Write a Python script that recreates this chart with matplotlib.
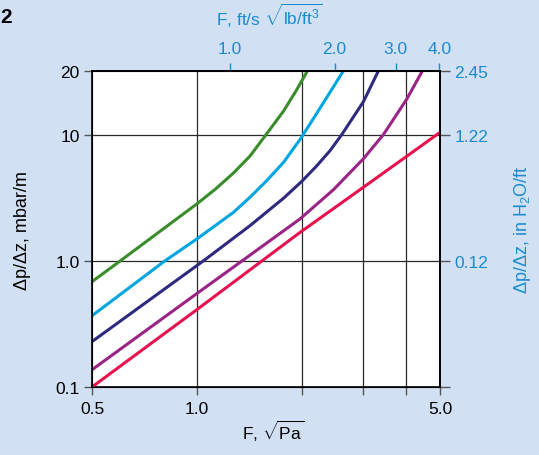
import numpy as np
import matplotlib
matplotlib.use("Agg")
import matplotlib.pyplot as plt
from matplotlib.ticker import FixedLocator, FixedFormatter, NullLocator

plt.rcParams['font.family'] = ['Liberation Sans', 'DejaVu Sans']
plt.rcParams['mathtext.fontset'] = 'custom'
plt.rcParams['mathtext.rm'] = 'Liberation Sans'
plt.rcParams['mathtext.it'] = 'Liberation Sans:italic'

# F factor in sqrt(Pa), pressure drop in mbar/m
f_green = [0.5, 0.603, 1.006, 1.132, 1.274, 1.422, 1.581, 1.774, 1.937, 2.079]
dp_green = [0.684, 1.0, 2.86, 3.71, 4.96, 6.77, 10.0, 12.9, 16.3, 20.0]

f_cyan = [0.5, 0.81, 1.0, 1.274, 1.422, 1.588, 1.774, 1.98, 2.163, 2.363, 2.638]
dp_cyan = [0.367, 1.0, 1.49, 2.42, 3.19, 4.32, 6.02, 9.16, 11.9, 15.0, 20.0]

f_navy = [0.5, 1.0, 1.045, 1.422, 1.774, 2.002, 2.21, 2.415, 2.609, 3.011, 3.325]
dp_navy = [0.229, 0.916, 1.0, 1.90, 3.13, 4.26, 5.65, 7.47, 10.0, 14.3, 20.0]

f_purple = [0.5, 1.0, 1.35, 1.98, 2.469, 3.011, 3.436, 4.01, 4.449]
dp_purple = [0.137, 0.55, 1.0, 2.15, 3.66, 6.44, 10.0, 14.7, 20.0]

f_red = [0.5, 1.0, 1.98, 3.011, 4.01, 5.0]
dp_red = [0.1, 0.41, 1.68, 3.83, 6.74, 10.26]

x_ticks = [0.5, 1, 2, 3, 4, 5]
x_labels = ['0.5', '1.0', '', '', '', '5.0']
y_ticks = [0.1, 1, 10, 20]
y_labels = ['0.1', '1.0', '10', '20']
top_ticks = [1, 2, 3, 4]
top_labels = ['1.0', '2.0', '3.0', '4.0']
right_labels = ['', '0.12', '1.22', '2.45']

F_CONV = 1.245    # sqrt(Pa) per ft/s sqrt(lb/ft3), as drawn
STRETCH = 1.678   # the chart stretches the 10..20 span

BG = '#d2e0f4'
BLUE = '#1b8bd0'
GRID = '#2a2a2a'


def fwd(y):
    ly = np.log10(np.clip(y, 1e-9, None))
    return np.where(ly <= 1, ly, 1 + (ly - 1) * STRETCH)


def inv(v):
    return np.where(v <= 1, 10.0 ** v, 10.0 ** (1 + (v - 1) / STRETCH))


fig = plt.figure(figsize=(5.39, 4.56), dpi=100, facecolor=BG)
ax = fig.add_axes([92 / 539, 68 / 456, 348 / 539, 316 / 456])
ax.set_facecolor('white')

ax.set_xscale('log')
ax.set_yscale('function', functions=(fwd, inv))
ax.set_xlim(0.5, 5)
ax.set_ylim(0.1, 20)

# grid
for xv in [1, 2, 3, 4]:
    ax.axvline(xv, color=GRID, lw=0.9, zorder=1)
for yv in [1, 10]:
    ax.axhline(yv, color=GRID, lw=0.9, zorder=1)

ax.plot(f_green, dp_green, color='#3a8d2b', lw=2.2, zorder=3)
ax.plot(f_cyan, dp_cyan, color='#00a6e2', lw=2.2, zorder=3)
ax.plot(f_navy, dp_navy, color='#2f2a7f', lw=2.2, zorder=3)
ax.plot(f_purple, dp_purple, color='#9a2486', lw=2.2, zorder=3)
ax.plot(f_red, dp_red, color='#e8124e', lw=2.2, zorder=3)

for s in ax.spines.values():
    s.set_linewidth(1.2)
    s.set_color('black')

ax.xaxis.set_major_locator(FixedLocator(x_ticks))
ax.xaxis.set_major_formatter(FixedFormatter(x_labels))
ax.xaxis.set_minor_locator(NullLocator())
ax.yaxis.set_major_locator(FixedLocator(y_ticks))
ax.yaxis.set_major_formatter(FixedFormatter(y_labels))
ax.yaxis.set_minor_locator(NullLocator())
ax.tick_params(axis='x', which='major', direction='out', length=6, width=1,
               color='#555555', labelsize=12.5, pad=4, top=False)
ax.tick_params(axis='y', which='major', direction='out', length=6, width=1,
               color='#555555', labelsize=12.5, pad=3, right=False)

ax.set_xlabel(r'F, $\sqrt{\mathrm{Pa}}$', fontsize=12.5)
ax.xaxis.set_label_coords(0.52, -0.139)
ax.xaxis.label.set_va('center')
ax.set_ylabel('Δp/Δz, mbar/m', fontsize=13)
ax.yaxis.set_label_coords(-0.201, 0.497)
ax.yaxis.label.set_va('center')

# top axis in ft/s sqrt(lb/ft3)
top = ax.secondary_xaxis('top', functions=(lambda x: x / F_CONV, lambda x: x * F_CONV))
top.xaxis.set_major_locator(FixedLocator(top_ticks))
top.xaxis.set_major_formatter(FixedFormatter(top_labels))
top.xaxis.set_minor_locator(NullLocator())
top.tick_params(axis='x', direction='out', length=6, width=1, color=BLUE,
                labelcolor=BLUE, labelsize=12.5, pad=5)
top.spines['top'].set_linewidth(1.2)
top.set_xlabel(r'F, ft/s $\sqrt{\mathrm{lb/ft^3}}$', fontsize=12.5, color=BLUE)
top.xaxis.set_label_coords(269 / 539, (456 - 16) / 456, transform=fig.transFigure)
top.xaxis.label.set_va('center')

# right axis in in H2O/ft
rax = ax.twinx()
rax.set_yscale('function', functions=(fwd, inv))
rax.set_ylim(0.1, 20)
rax.yaxis.set_major_locator(FixedLocator(y_ticks))
rax.yaxis.set_major_formatter(FixedFormatter(right_labels))
rax.yaxis.set_minor_locator(NullLocator())
rax.tick_params(axis='y', direction='out', length=7.5, width=1, color='#555555',
                labelcolor=BLUE, labelsize=12.5, pad=3)
rax.spines['right'].set_linewidth(1.2)
rax.set_ylabel('Δp/Δz, in H$_2$O/ft', fontsize=13, color=BLUE)
rax.yaxis.set_label_coords(1.236, 0.50)
rax.yaxis.label.set_va('center')

fig.text(0.5 / 539, (456 - 23) / 456, '2', fontsize=15, fontweight='bold',
         ha='left', va='baseline')

fig.savefig('out.png', dpi=100, facecolor=BG)
